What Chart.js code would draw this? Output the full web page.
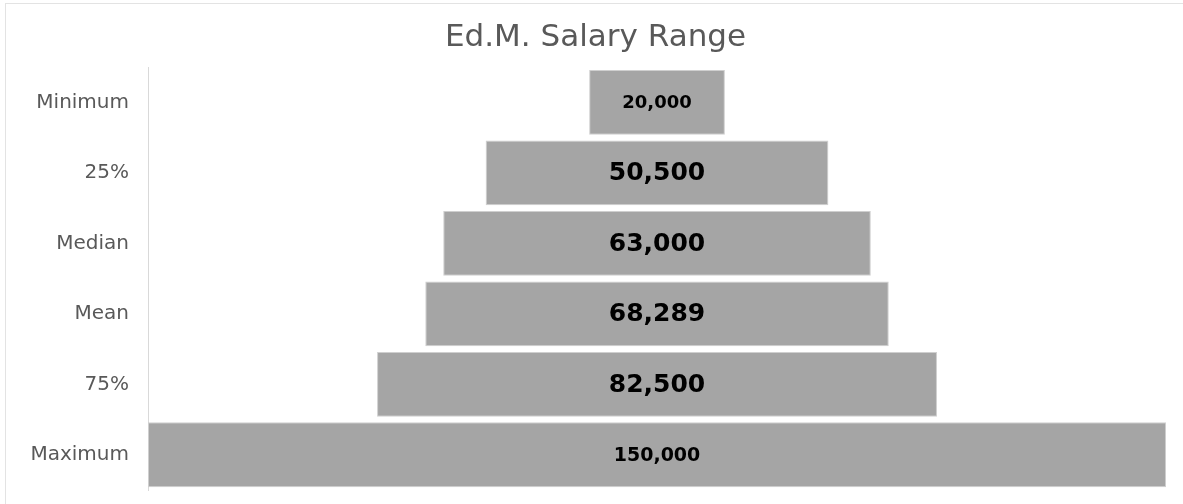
<!DOCTYPE html>
<html>
<head>
<meta charset="utf-8">
<script src="https://cdn.jsdelivr.net/npm/chart.js@4/dist/chart.umd.min.js"></script>
<style>
html,body{margin:0;padding:0;background:#fff;overflow:hidden;}
#wrap{width:1183px;height:504px;position:relative;}
canvas{display:block;}
</style>
</head>
<body>
<div id="wrap"><canvas id="c" width="1183" height="504"></canvas></div>
<script>
const categories = ['Minimum', '25%', 'Median', 'Mean', '75%', 'Maximum'];
const salaries = [20000, 50500, 63000, 68289, 82500, 150000];
const valueLabels = ['20,000', '50,500', '63,000', '68,289', '82,500', '150,000'];
const labelSizes = [18, 25, 25, 25, 25, 19];
const titleText = 'Ed.M. Salary Range';

const frame = {
  id: 'frame',
  beforeDraw(chart) {
    const ctx = chart.ctx;
    ctx.save();
    ctx.fillStyle = '#ffffff';
    ctx.fillRect(0, 0, chart.width, chart.height);
    ctx.strokeStyle = '#e3e3e3';
    ctx.lineWidth = 1;
    ctx.strokeRect(5.5, 3.5, 1300, 700);
    ctx.restore();
  }
};

const valueText = {
  id: 'valueText',
  afterDatasetsDraw(chart) {
    const ctx = chart.ctx;
    const meta = chart.getDatasetMeta(0);
    ctx.save();
    ctx.fillStyle = '#000000';
    ctx.textAlign = 'center';
    ctx.textBaseline = 'middle';
    meta.data.forEach((bar, i) => {
      const p = bar.getProps(['x', 'y', 'base'], true);
      ctx.font = 'bold ' + labelSizes[i] + 'px "DejaVu Sans"';
      ctx.fillText(valueLabels[i], (p.x + p.base) / 2, p.y + 1);
    });
    ctx.restore();
  }
};

new Chart(document.getElementById('c'), {
  type: 'bar',
  data: {
    labels: categories,
    datasets: [{
      data: salaries.map(v => [-v / 2, v / 2]),
      backgroundColor: '#a5a5a5',
      borderColor: '#cfcfcf',
      borderWidth: 1,
      borderSkipped: false,
      barPercentage: 0.92,
      categoryPercentage: 1.0
    }]
  },
  options: {
    indexAxis: 'y',
    responsive: false,
    animation: false,
    layout: { padding: { left: 8, right: 0, top: 0, bottom: 14 } },
    plugins: {
      legend: { display: false },
      tooltip: { enabled: false },
      title: {
        display: true,
        text: titleText,
        color: '#595959',
        font: { family: '"DejaVu Sans"', size: 31, weight: 'normal' },
        padding: { top: 19, bottom: 11 }
      }
    },
    scales: {
      x: { display: false, min: -75000, max: 77500 },
      y: {
        grid: { display: false, drawTicks: false },
        border: { display: true, color: '#d9d9d9', width: 1 },
        ticks: {
          color: '#595959',
          font: { family: '"DejaVu Sans"', size: 20 },
          padding: 19
        },
        afterFit(scale) {
          scale.width = 140;
          scale.paddingTop = 0;
          scale.paddingBottom = 0;
        }
      }
    }
  },
  plugins: [frame, valueText]
});
</script>
</body>
</html>
